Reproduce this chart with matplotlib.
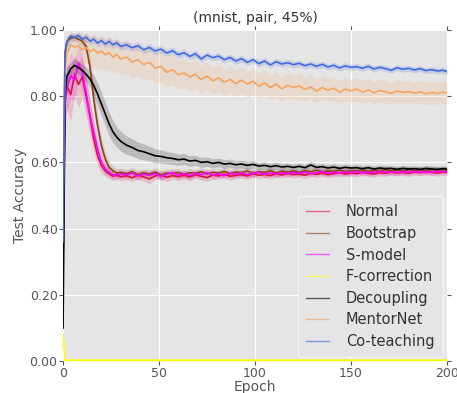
import matplotlib
matplotlib.use("Agg")
import matplotlib.pyplot as plt
import numpy as np

# sampled epochs (dense early, every 3 epochs later)
epochs = np.r_[0, 1, np.arange(2, 31, 2), np.arange(33, 199, 3), 200]

normal = [0.30, 0.80, 0.83, 0.805, 0.865, 0.835, 0.858, 0.800, 0.740, 0.670, 0.620, 0.590, 0.574, 0.565, 0.558, 0.563, 0.556,
          0.560, 0.553, 0.562, 0.556, 0.550, 0.559, 0.563, 0.555, 0.560, 0.557,
          0.561, 0.556, 0.563, 0.558, 0.554, 0.562, 0.559, 0.565, 0.558, 0.561,
          0.563, 0.559, 0.566, 0.561, 0.564, 0.560, 0.566, 0.562, 0.567, 0.563,
          0.565, 0.561, 0.567, 0.564, 0.568, 0.563, 0.566, 0.569, 0.565, 0.568,
          0.566, 0.570, 0.567, 0.565, 0.569, 0.567, 0.571, 0.568, 0.570, 0.567,
          0.571, 0.569, 0.572, 0.570, 0.568, 0.571, 0.570]
normal_sd = [0.05, 0.07, 0.07, 0.08, 0.06, 0.07, 0.06, 0.06, 0.05, 0.04, 0.03, 0.022, 0.016, 0.014, 0.013, 0.012, 0.012,
             0.012, 0.011, 0.013, 0.012, 0.014, 0.011, 0.012, 0.013, 0.011, 0.012,
             0.011, 0.012, 0.010, 0.012, 0.011, 0.013, 0.010, 0.011, 0.012, 0.010,
             0.011, 0.010, 0.012, 0.010, 0.011, 0.010, 0.011, 0.009, 0.011, 0.010,
             0.010, 0.011, 0.009, 0.010, 0.011, 0.009, 0.010, 0.010, 0.009, 0.010,
             0.010, 0.009, 0.010, 0.009, 0.010, 0.009, 0.010, 0.009, 0.009, 0.010,
             0.009, 0.010, 0.009, 0.009, 0.010, 0.009, 0.009]

bootstrap = [0.45, 0.93, 0.965, 0.975, 0.978, 0.972, 0.966, 0.950, 0.890, 0.790, 0.710, 0.650, 0.610, 0.585, 0.575, 0.568, 0.570,
             0.566, 0.572, 0.563, 0.569, 0.565, 0.571, 0.562, 0.568, 0.566, 0.570,
             0.564, 0.569, 0.567, 0.572, 0.565, 0.570, 0.568, 0.573, 0.566, 0.571,
             0.569, 0.574, 0.567, 0.572, 0.570, 0.575, 0.568, 0.573, 0.571, 0.574,
             0.570, 0.575, 0.572, 0.576, 0.571, 0.574, 0.573, 0.577, 0.572, 0.575,
             0.574, 0.577, 0.573, 0.576, 0.575, 0.578, 0.574, 0.577, 0.575, 0.578,
             0.576, 0.578, 0.575, 0.579, 0.577, 0.578, 0.577]
bootstrap_sd = [0.05, 0.03, 0.015, 0.012, 0.012, 0.014, 0.015, 0.02, 0.03, 0.035, 0.03, 0.025, 0.02, 0.016, 0.014, 0.013, 0.013,
                0.013, 0.012, 0.014, 0.012, 0.013, 0.012, 0.014, 0.012, 0.013, 0.012,
                0.012, 0.013, 0.011, 0.012, 0.013, 0.011, 0.012, 0.012, 0.011, 0.012,
                0.011, 0.012, 0.011, 0.010, 0.012, 0.011, 0.010, 0.011, 0.010, 0.011,
                0.010, 0.011, 0.010, 0.011, 0.010, 0.010, 0.011, 0.010, 0.010, 0.011,
                0.010, 0.010, 0.011, 0.010, 0.010, 0.010, 0.011, 0.010, 0.010, 0.010,
                0.010, 0.010, 0.010, 0.011, 0.010, 0.010, 0.010]

smodel = [0.30, 0.78, 0.82, 0.862, 0.848, 0.900, 0.872, 0.810, 0.742, 0.690, 0.640, 0.600, 0.580, 0.570, 0.563, 0.559, 0.566,
          0.562, 0.568, 0.559, 0.565, 0.561, 0.567, 0.557, 0.564, 0.569, 0.561,
          0.566, 0.560, 0.567, 0.563, 0.569, 0.562, 0.565, 0.560, 0.567, 0.564,
          0.568, 0.563, 0.566, 0.570, 0.564, 0.568, 0.565, 0.569, 0.566, 0.570,
          0.567, 0.571, 0.566, 0.569, 0.572, 0.567, 0.570, 0.568, 0.571, 0.569,
          0.572, 0.568, 0.571, 0.569, 0.573, 0.570, 0.572, 0.569, 0.572, 0.570,
          0.573, 0.571, 0.572, 0.570, 0.573, 0.572, 0.572]
smodel_sd = [0.05, 0.07, 0.06, 0.07, 0.06, 0.05, 0.06, 0.05, 0.045, 0.04, 0.03, 0.022, 0.016, 0.014, 0.013, 0.012, 0.012,
             0.012, 0.011, 0.012, 0.011, 0.012, 0.011, 0.012, 0.011, 0.010, 0.011,
             0.010, 0.011, 0.010, 0.011, 0.010, 0.011, 0.010, 0.010, 0.011, 0.010,
             0.010, 0.009, 0.010, 0.009, 0.010, 0.009, 0.010, 0.009, 0.009, 0.010,
             0.009, 0.010, 0.009, 0.009, 0.010, 0.009, 0.009, 0.009, 0.010, 0.009,
             0.009, 0.009, 0.009, 0.010, 0.009, 0.009, 0.009, 0.009, 0.009, 0.009,
             0.009, 0.009, 0.009, 0.009, 0.009, 0.009, 0.009]

fcorr_epochs = [0, 1, 200]
fcorr = [0.08, 0.003, 0.003]
fcorr_sd = [0.03, 0.004, 0.004]

decoupling = [0.10, 0.80, 0.86, 0.882, 0.893, 0.886, 0.878, 0.866, 0.852, 0.832, 0.806, 0.776, 0.746, 0.716, 0.692, 0.676, 0.664,
              0.652, 0.645, 0.636, 0.632, 0.626, 0.620, 0.618, 0.614, 0.612, 0.608,
              0.610, 0.604, 0.606, 0.600, 0.602, 0.597, 0.600, 0.595, 0.597, 0.593,
              0.595, 0.591, 0.594, 0.589, 0.591, 0.587, 0.590, 0.586, 0.588, 0.585,
              0.588, 0.584, 0.592, 0.585, 0.587, 0.583, 0.586, 0.582, 0.585, 0.583,
              0.584, 0.581, 0.584, 0.580, 0.583, 0.581, 0.582, 0.579, 0.582, 0.580,
              0.581, 0.579, 0.582, 0.580, 0.579, 0.581, 0.580]
decoupling_sd = [0.05, 0.04, 0.03, 0.02, 0.02, 0.02, 0.02, 0.022, 0.025, 0.03, 0.035, 0.035, 0.035, 0.035, 0.033, 0.03, 0.03,
                 0.028, 0.026, 0.025, 0.024, 0.022, 0.021, 0.020, 0.019, 0.018, 0.017,
                 0.017, 0.016, 0.015, 0.015, 0.014, 0.014, 0.013, 0.013, 0.013, 0.012,
                 0.012, 0.012, 0.012, 0.011, 0.011, 0.011, 0.011, 0.011, 0.010, 0.010,
                 0.010, 0.010, 0.011, 0.010, 0.010, 0.010, 0.010, 0.010, 0.010, 0.010,
                 0.010, 0.010, 0.009, 0.010, 0.009, 0.010, 0.009, 0.009, 0.010, 0.009,
                 0.009, 0.009, 0.009, 0.009, 0.009, 0.009, 0.009]

mentornet = [0.50, 0.87, 0.93, 0.955, 0.948, 0.952, 0.940, 0.946, 0.935, 0.941, 0.930, 0.936, 0.925, 0.931, 0.918, 0.926, 0.912,
             0.918, 0.903, 0.910, 0.895, 0.902, 0.884, 0.890, 0.872, 0.880, 0.865,
             0.870, 0.858, 0.866, 0.850, 0.861, 0.846, 0.855, 0.842, 0.851, 0.838,
             0.848, 0.836, 0.845, 0.830, 0.840, 0.826, 0.836, 0.822, 0.833, 0.826,
             0.831, 0.820, 0.828, 0.815, 0.826, 0.818, 0.824, 0.812, 0.821, 0.816,
             0.822, 0.812, 0.819, 0.810, 0.817, 0.813, 0.808, 0.816, 0.811, 0.814,
             0.809, 0.813, 0.807, 0.811, 0.808, 0.812, 0.810]
mentornet_sd = [0.08, 0.06, 0.05, 0.04, 0.04, 0.042, 0.045, 0.045, 0.048, 0.05, 0.05, 0.05, 0.05, 0.05, 0.05, 0.05, 0.05,
                0.05, 0.048, 0.05, 0.047, 0.05, 0.045, 0.048, 0.044, 0.046, 0.043,
                0.045, 0.042, 0.044, 0.041, 0.043, 0.040, 0.042, 0.040, 0.041, 0.039,
                0.041, 0.039, 0.040, 0.038, 0.040, 0.037, 0.039, 0.037, 0.038, 0.036,
                0.038, 0.036, 0.037, 0.035, 0.037, 0.035, 0.036, 0.034, 0.036, 0.034,
                0.035, 0.034, 0.035, 0.033, 0.035, 0.034, 0.033, 0.035, 0.033, 0.034,
                0.033, 0.034, 0.033, 0.034, 0.033, 0.034, 0.033]

coteaching = [0.36, 0.93, 0.965, 0.982, 0.976, 0.983, 0.972, 0.978, 0.966, 0.972, 0.960, 0.968, 0.957, 0.965, 0.955, 0.961, 0.950,
              0.955, 0.946, 0.952, 0.940, 0.947, 0.936, 0.942, 0.930, 0.937, 0.925,
              0.931, 0.920, 0.928, 0.912, 0.924, 0.916, 0.921, 0.910, 0.917, 0.906,
              0.913, 0.902, 0.910, 0.898, 0.906, 0.894, 0.904, 0.897, 0.901, 0.895,
              0.899, 0.892, 0.897, 0.890, 0.896, 0.888, 0.893, 0.885, 0.891, 0.887,
              0.889, 0.884, 0.890, 0.882, 0.887, 0.883, 0.878, 0.886, 0.881, 0.884,
              0.879, 0.883, 0.877, 0.880, 0.876, 0.878, 0.874]
coteaching_sd = [0.06, 0.03, 0.015, 0.01, 0.01, 0.01, 0.012, 0.012, 0.012, 0.012, 0.012, 0.012, 0.012, 0.012, 0.012, 0.012, 0.012,
                 0.012, 0.011, 0.012, 0.011, 0.012, 0.011, 0.012, 0.011, 0.011, 0.011,
                 0.011, 0.010, 0.011, 0.010, 0.011, 0.010, 0.011, 0.010, 0.010, 0.010,
                 0.010, 0.010, 0.010, 0.010, 0.010, 0.010, 0.010, 0.010, 0.010, 0.010,
                 0.010, 0.010, 0.010, 0.009, 0.010, 0.009, 0.010, 0.009, 0.010, 0.009,
                 0.009, 0.009, 0.010, 0.009, 0.009, 0.009, 0.009, 0.009, 0.009, 0.009,
                 0.009, 0.009, 0.009, 0.009, 0.009, 0.009, 0.009]

labels = ['Normal', 'Bootstrap', 'S-model', 'F-correction', 'Decoupling', 'MentorNet', 'Co-teaching']
colors = ['crimson', '#8b4513', 'magenta', 'yellow', 'black', 'sandybrown', 'royalblue']

plt.style.use('ggplot')
plt.rcParams['font.family'] = ['DejaVu Sans']

fig = plt.figure(figsize=(4.57, 3.93), dpi=100)
ax = fig.add_axes([0.138, 0.081, 0.840, 0.843])

series = [(epochs, normal, normal_sd), (epochs, bootstrap, bootstrap_sd), (epochs, smodel, smodel_sd),
          (fcorr_epochs, fcorr, fcorr_sd), (epochs, decoupling, decoupling_sd),
          (epochs, mentornet, mentornet_sd), (epochs, coteaching, coteaching_sd)]

for (x, m, s), lab, c in zip(series, labels, colors):
    m = np.array(m)
    s = np.array(s)
    ax.fill_between(x, m - s, m + s, color=c, alpha=0.18, lw=0)
    ax.plot(x, m, color=c, lw=1.2, label=lab)

ax.set_xlim(0, 200)
ax.set_ylim(0, 1)
ax.set_xticks([0, 50, 100, 150, 200])
ax.set_yticks([0.0, 0.2, 0.4, 0.6, 0.8, 1.0])
ax.yaxis.set_major_formatter(matplotlib.ticker.FormatStrFormatter('%.2f'))
ax.tick_params(labelsize=9, colors='#555555', direction='out', length=3, top=True, right=True,
               labeltop=False, labelright=False, pad=1)
ax.set_xlabel('Epoch', fontsize=10, color='#555555', labelpad=0)
ax.set_ylabel('Test Accuracy', fontsize=10, color='#555555', labelpad=2)
ax.set_title('(mnist, pair, 45%)', fontsize=10, color='#333333', pad=6)
for sp in ax.spines.values():
    sp.set_visible(False)

leg = ax.legend(loc='lower right', fontsize=10.5, frameon=True, facecolor='#E5E5E5',
                edgecolor='white', framealpha=1, borderaxespad=0.3, borderpad=0.55,
                handlelength=1.6, handletextpad=1.15, labelspacing=0.45)
for t in leg.get_texts():
    t.set_color('#333333')
for h in leg.get_lines():
    h.set_alpha(0.6)
    h.set_linewidth(1.0)

fig.savefig('out.png', dpi=100)
